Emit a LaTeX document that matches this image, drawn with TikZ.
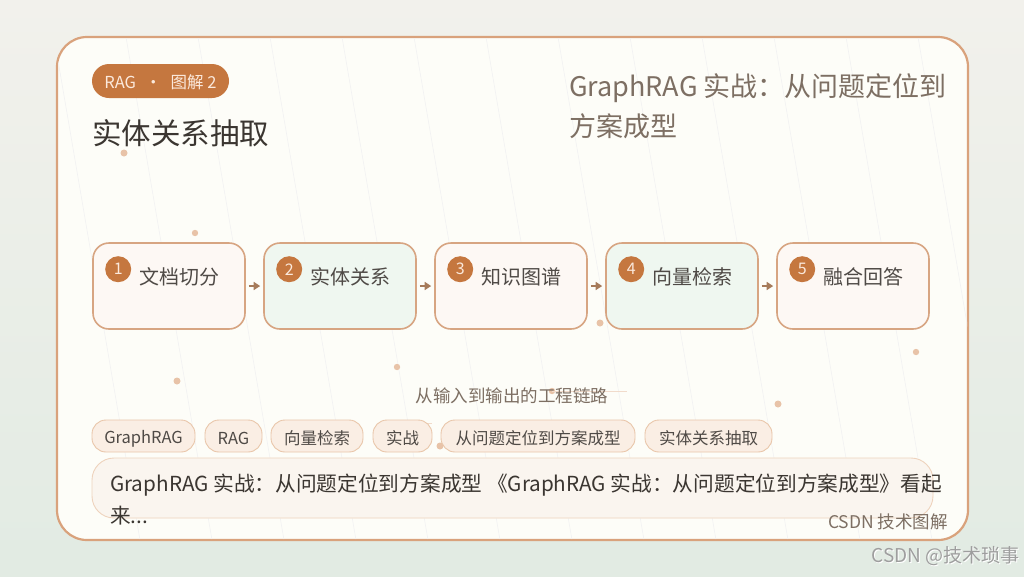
\documentclass[tikz,border=0pt]{standalone}
\usepackage{fontspec}
\setmainfont{Noto Sans CJK SC}
\usetikzlibrary{arrows.meta,calc}
\definecolor{bgA}{HTML}{F2F1EC}
\definecolor{bgB}{HTML}{E2EBE3}
\definecolor{cardfill}{HTML}{FDFDF8}
\definecolor{cardline}{HTML}{D9A27C}
\definecolor{accent}{HTML}{C5773F}
\definecolor{boxline}{HTML}{D7A582}
\definecolor{warmfill}{HTML}{FDF8F4}
\definecolor{greenfill}{HTML}{EFF7F0}
\definecolor{tagfill}{HTML}{FAEEE4}
\definecolor{tagline}{HTML}{E9C6AA}
\definecolor{sumfill}{HTML}{FAF5EF}
\definecolor{sumline}{HTML}{EED3BD}
\definecolor{dotc}{HTML}{E8C3A8}
\definecolor{darktext}{HTML}{3B3631}
\definecolor{subtext}{HTML}{7D6F63}
\definecolor{arrowc}{HTML}{A67B5A}
\definecolor{pilltext}{HTML}{FBE9DC}
\tikzset{
  stepbox/.style={draw=boxline, line width=1.6pt, rounded corners=16pt, minimum width=152pt, minimum height=86pt, inner sep=0pt},
  numdot/.style={circle, fill=accent, minimum size=26pt, inner sep=0pt, text=pilltext, font=\fontsize{16pt}{18pt}\selectfont},
  steptext/.style={anchor=west, inner sep=0pt, text=darktext!90, font=\fontsize{20pt}{24pt}\selectfont},
  tag/.style={draw=tagline, line width=0.9pt, fill=tagfill, rounded corners=14pt, minimum height=32pt, inner sep=0pt, text=darktext!90, font=\fontsize{16.5pt}{20pt}\selectfont},
  tagtext/.style={inner sep=0pt, text=darktext!90, font=\fontsize{16.5pt}{20pt}\selectfont},
  flow/.style={draw=arrowc, line width=1.8pt, -{Triangle[length=6.5pt,width=8pt]}},
  deco/.style={fill=dotc},
  faint/.style={draw=black!5, line width=0.6pt},
}
\begin{document}
\begin{tikzpicture}[x=1pt,y=-1pt]
\useasboundingbox (0,0) rectangle (1024,576);
% background
\shade[left color=bgA, right color=bgB, shading angle=0] (0,0) rectangle (1024,576);
\fill[bgB, opacity=0.5] (0,576) rectangle (1024,540);
% card
\node[draw=cardline, line width=2.2pt, fill=cardfill, rounded corners=30pt, minimum width=911pt, minimum height=503pt, inner sep=0pt] (card) at (512.5,288.5) {};
\begin{scope}
\clip[rounded corners=29pt] (58,38) rectangle (967,539);
\foreach \x in {54,126,198,270,342,414,486,558,630,702,774,846,918}{
  \draw[faint] (\x,37) -- (\x+86,540);
}
\end{scope}
% header pill
\node[fill=accent, rounded corners=17pt, minimum width=137pt, minimum height=34pt, inner sep=0pt] (pill) at (160.5,81) {};
\node[inner sep=0pt, text=pilltext, font=\fontsize{16.5pt}{18pt}\selectfont] (pillt) at (160.5,82) {RAG\hspace{0.55em}·\hspace{0.55em}图解 2};
% title
\node[anchor=west, inner sep=0pt, text=darktext, font=\fontsize{29.5pt}{34pt}\selectfont] (title) at (92,133) {实体关系抽取};
% right title
\node[anchor=west, inner sep=0pt, text=subtext, font=\fontsize{27pt}{32pt}\selectfont] (rt1) at (569,88) {GraphRAG 实战：从问题定位到};
\node[anchor=west, inner sep=0pt, text=subtext, font=\fontsize{27pt}{32pt}\selectfont] (rt2) at (569,126) {方案成型};
% dots
\fill[deco] (124,153) circle (3.5);
\fill[deco] (195,233) circle (3.2);
\fill[deco] (600,323) circle (3.5);
\fill[deco] (397,367) circle (3.2);
\fill[deco] (177,381) circle (3.5);
\fill[deco] (552,391) circle (3.2);
\fill[deco] (778,404) circle (3.5);
\fill[deco] (916,352) circle (3.2);
\fill[deco] (440,446) circle (3.5);
\fill[deco, opacity=0.6] (397,423) circle (3);
\draw[draw=dotc!60, line width=0.6pt] (552,391) -- (627,391);
\draw[draw=dotc!60, line width=0.6pt] (397,423) -- (432,423);
% steps
\node[stepbox, fill=warmfill] (b1) at (169,286) {};
\node[stepbox, fill=greenfill] (b2) at (340,286) {};
\node[stepbox, fill=warmfill] (b3) at (511,286) {};
\node[stepbox, fill=greenfill] (b4) at (682,286) {};
\node[stepbox, fill=warmfill] (b5) at (853,286) {};
\foreach \b/\n/\t in {b1/1/文档切分, b2/2/实体关系, b3/3/知识图谱, b4/4/向量检索, b5/5/融合回答}{
  \node[numdot] (\b n) at ($(\b.north west)+(26,27)$) {\n};
  \node[steptext] (\b t) at ($(\b.north west)+(47,34.5)$) {\t};
}
\draw[flow] ([xshift=3pt]b1.east) -- ([xshift=-3pt]b2.west);
\draw[flow] ([xshift=3pt]b2.east) -- ([xshift=-3pt]b3.west);
\draw[flow] ([xshift=3pt]b3.east) -- ([xshift=-3pt]b4.west);
\draw[flow] ([xshift=3pt]b4.east) -- ([xshift=-3pt]b5.west);
% caption
\node[inner sep=0pt, text=subtext, font=\fontsize{17.5pt}{20pt}\selectfont] (cap) at (512,396) {从输入到输出的工程链路};
% tags
\node[tag, minimum width=103pt] (t1) at (143.5,436) {};
\node[tag, minimum width=57pt] (t2) at (233.5,436) {};
\node[tag, minimum width=92pt] (t3) at (317,436) {};
\node[tag, minimum width=59pt] (t4) at (402.5,436) {};
\node[tag, minimum width=194pt] (t5) at (538,436) {};
\node[tag, minimum width=127pt] (t6) at (708.5,436) {};
\node[tagtext] at (143.5,438.5) {GraphRAG};
\node[tagtext] at (233.5,438.5) {RAG};
\node[tagtext] at (317,438.5) {向量检索};
\node[tagtext] at (402.5,438.5) {实战};
\node[tagtext] at (538,438.5) {从问题定位到方案成型};
\node[tagtext] at (708.5,438.5) {实体关系抽取};
% summary
\node[draw=sumline, line width=0.9pt, fill=sumfill, rounded corners=22pt, minimum width=841pt, minimum height=60pt, inner sep=0pt] (sum) at (512.5,488) {};
\node[anchor=west, inner sep=0pt, text=darktext, font=\fontsize{20.7pt}{24pt}\selectfont] (s1) at (110,485) {GraphRAG 实战：从问题定位到方案成型 《GraphRAG 实战：从问题定位到方案成型》看起};
\node[anchor=west, inner sep=0pt, text=darktext, font=\fontsize{20.7pt}{24pt}\selectfont] (s2) at (110,516) {来...};
% footer
\node[anchor=east, inner sep=0pt, text=subtext, font=\fontsize{17.5pt}{20pt}\selectfont] (foot) at (948,522) {CSDN 技术图解};
% watermark
\node[anchor=east, inner sep=0pt, text=white, font=\fontsize{19pt}{22pt}\selectfont] at (1021,557) {CSDN @技术琐事};
\node[anchor=east, inner sep=0pt, text=black!38, font=\fontsize{19pt}{22pt}\selectfont] (wm) at (1020,556) {CSDN @技术琐事};
\end{tikzpicture}
\end{document}
